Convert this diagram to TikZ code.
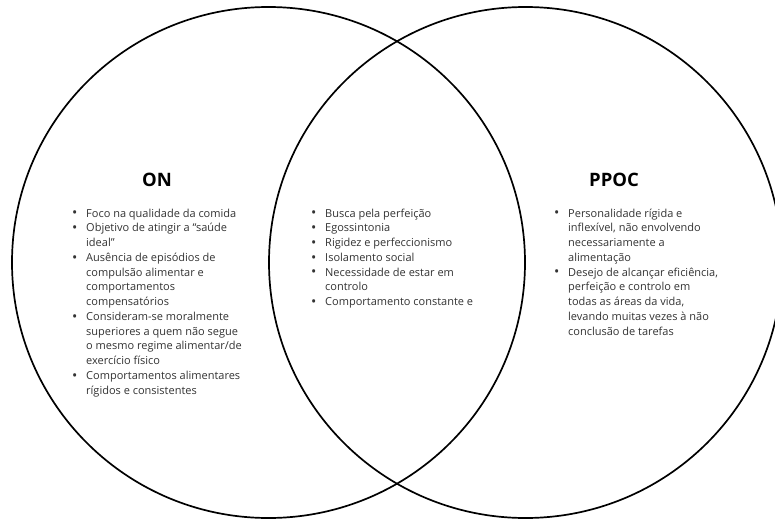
\documentclass[tikz,border=0pt]{standalone}
\usepackage{fontspec}
\setmainfont{Open Sans}
\usepackage{tikz}

\newcommand{\itemdot}{\raisebox{-0.9pt}{\fontsize{14}{14}\selectfont\textbullet}}

\begin{document}
\begin{tikzpicture}[x=1pt,y=-1pt,
  ring/.style={line width=1.7pt},
  title/.style={font=\fontsize{18.5}{22}\selectfont\bfseries, anchor=center},
  items/.style={font=\fontsize{11}{14.75}\selectfont, text=black!80, anchor=base west, inner sep=0pt}]

% Frame
\useasboundingbox (0,0) rectangle (775,519);
\fill[white] (0,0) rectangle (775,519);

% Circles
\draw[ring] (268.5,262.5) ellipse [x radius=256.5, y radius=255.5];
\draw[ring] (525.5,262.5) ellipse [x radius=256.5, y radius=255.5];

% Titles
\node[title] (on) at (157,180) {ON};
\node[title] (ppoc) at (614,180) {PPOC};

% ON only
\node[items] (onlist) at (72,217) {\begin{tabular}[t]{@{}p{14pt}@{}l@{}}
\itemdot & Foco na qualidade da comida\\
\itemdot & Objetivo de atingir a “saúde\\
 & ideal”\\
\itemdot & Ausência de episódios de\\
 & compulsão alimentar e\\
 & comportamentos\\
 & compensatórios\\
\itemdot & Consideram-se moralmente\\
 & superiores a quem não segue\\
 & o mesmo regime alimentar/de\\
 & exercício físico\\
\itemdot & Comportamentos alimentares\\
 & rígidos e consistentes
\end{tabular}};

% Both
\node[items] (bothlist) at (311,217) {\begin{tabular}[t]{@{}p{14pt}@{}l@{}}
\itemdot & Busca pela perfeição\\
\itemdot & Egossintonia\\
\itemdot & Rigidez e perfeccionismo\\
\itemdot & Isolamento social\\
\itemdot & Necessidade de estar em\\
 & controlo\\
\itemdot & Comportamento constante e
\end{tabular}};

% PPOC only
\node[items] (ppoclist) at (554,217) {\begin{tabular}[t]{@{}p{14pt}@{}l@{}}
\itemdot & Personalidade rígida e\\
 & inflexível, não envolvendo\\
 & necessariamente a\\
 & alimentação\\
\itemdot & Desejo de alcançar eficiência,\\
 & perfeição e controlo em\\
 & todas as áreas da vida,\\
 & levando muitas vezes à não\\
 & conclusão de tarefas
\end{tabular}};

\end{tikzpicture}
\end{document}
